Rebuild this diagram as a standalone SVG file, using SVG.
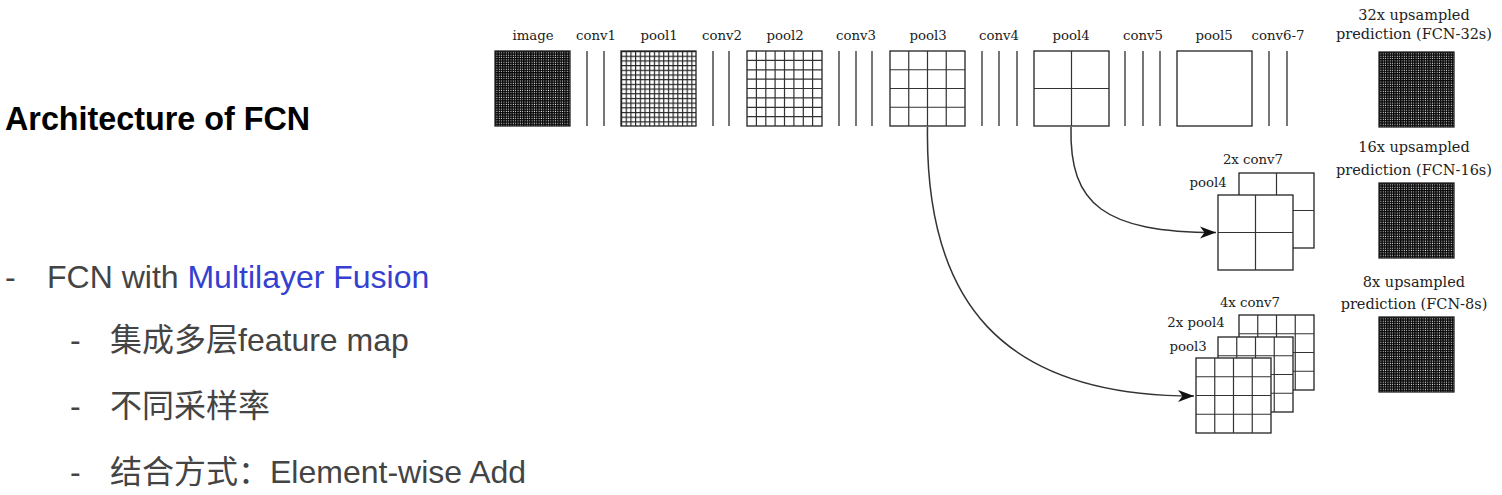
<svg xmlns="http://www.w3.org/2000/svg" width="1502" height="495" viewBox="0 0 1502 495">
<style>
.lbl{font-family:"DejaVu Serif",serif;font-size:13.3px;fill:#222;text-anchor:middle}
.plbl{font-family:"DejaVu Serif",serif;font-size:14.5px;fill:#222;text-anchor:middle}
.box{fill:#fff;stroke:#222;stroke-width:1.3}
.grid{fill:none;stroke:#333;stroke-width:1.2}
.cv{stroke:#555;stroke-width:1.6}
.edge{fill:none;stroke:#333;stroke-width:1.5;marker-end:url(#arr)}
.t{font-family:"Liberation Sans","Noto Sans CJK SC",sans-serif;font-size:32px;fill:#444}
</style>
<defs>
<pattern id="g32" patternUnits="objectBoundingBox" width="0.03125" height="0.03125"><path d="M0 0V3M0 0H3" stroke="#0a0a0a" stroke-width="2.9"/></pattern>
<pattern id="g16" patternUnits="objectBoundingBox" width="0.0625" height="0.0625"><path d="M0 0V5M0 0H5" stroke="#222" stroke-width="2.3"/></pattern>
<marker id="arr" markerUnits="userSpaceOnUse" markerWidth="17" markerHeight="13" refX="16" refY="6.5" orient="auto"><path d="M0,0.5 L16,6.5 L0,12.5 L4.5,6.5 Z" fill="#111"/></marker>
</defs>
<rect width="1502" height="495" fill="#fff"/>

<g id="text-left">
<text x="5" y="130" font-family="Liberation Sans,sans-serif" font-weight="bold" font-size="32.3" fill="#000">Architecture of FCN</text>
<text x="5" y="288" class="t">-</text>
<text x="47" y="288" class="t">FCN with <tspan fill="#3340d0">Multilayer Fusion</tspan></text>
<text x="70" y="351" class="t">-</text>
<text x="110" y="351" class="t">集成多层feature map</text>
<text x="70" y="417" class="t">-</text>
<text x="110" y="417" class="t">不同采样率</text>
<text x="70" y="483" class="t">-</text>
<text x="110" y="483" class="t">结合方式：Element-wise Add</text>
</g>

<g id="image"><text x="533" y="40" class="lbl">image</text><rect x="495" y="51" width="75" height="75" fill="#fff"/><rect x="495" y="51" width="75" height="75" fill="url(#g32)" stroke="#222" stroke-width="1.3"/></g>
<g id="conv1"><text x="596" y="40" class="lbl">conv1</text><path class="cv" d="M587 51V126M604 51V126"/></g>
<g id="pool1"><text x="659" y="40" class="lbl">pool1</text><rect x="621" y="51" width="75" height="75" fill="#fff"/><rect x="621" y="51" width="75" height="75" fill="url(#g16)" stroke="#222" stroke-width="1.3"/></g>
<g id="conv2"><text x="722" y="40" class="lbl">conv2</text><path class="cv" d="M713 51V126M729 51V126"/></g>
<g id="pool2"><text x="785" y="40" class="lbl">pool2</text><rect class="box" x="747" y="51" width="75" height="75"/><path class="grid" d="M756.4 51V126M765.8 51V126M775.1 51V126M784.5 51V126M793.9 51V126M803.3 51V126M812.6 51V126M747 60.4H822M747 69.8H822M747 79.1H822M747 88.5H822M747 97.9H822M747 107.3H822M747 116.6H822"/></g>
<g id="conv3"><text x="856" y="40" class="lbl">conv3</text><path class="cv" d="M839 51V126M856 51V126M872 51V126"/></g>
<g id="pool3"><text x="928" y="40" class="lbl">pool3</text><rect class="box" x="890" y="51" width="75" height="75"/><path class="grid" d="M908.75 51V126M927.5 51V126M946.25 51V126M890 69.75H965M890 88.5H965M890 107.25H965"/></g>
<g id="conv4"><text x="999" y="40" class="lbl">conv4</text><path class="cv" d="M982 51V126M999 51V126M1017 51V126"/></g>
<g id="pool4"><text x="1071" y="40" class="lbl">pool4</text><rect class="box" x="1034" y="51" width="75" height="75"/><path class="grid" d="M1071.5 51V126M1034 88.5H1109"/></g>
<g id="conv5"><text x="1143" y="40" class="lbl">conv5</text><path class="cv" d="M1125 51V126M1143 51V126M1160 51V126"/></g>
<g id="pool5"><text x="1214" y="40" class="lbl">pool5</text><rect class="box" x="1177" y="51" width="75" height="75"/></g>
<g id="conv6-7"><text x="1278" y="40" class="lbl">conv6-7</text><path class="cv" d="M1269 51V126M1287 51V126"/></g>

<g id="pred32"><text x="1414" y="20" class="plbl">32x upsampled</text><text x="1414" y="39" class="plbl">prediction (FCN-32s)</text><rect x="1379" y="52" width="75" height="75" fill="#fff"/><rect x="1379" y="52" width="75" height="75" fill="url(#g32)" stroke="#222" stroke-width="1.3"/></g>
<g id="pred16"><text x="1414" y="152" class="plbl">16x upsampled</text><text x="1414" y="175" class="plbl">prediction (FCN-16s)</text><rect x="1379" y="183" width="75" height="75" fill="#fff"/><rect x="1379" y="183" width="75" height="75" fill="url(#g32)" stroke="#222" stroke-width="1.3"/></g>
<g id="pred8"><text x="1414" y="287" class="plbl">8x upsampled</text><text x="1414" y="309" class="plbl">prediction (FCN-8s)</text><rect x="1379" y="317" width="75" height="75" fill="#fff"/><rect x="1379" y="317" width="75" height="75" fill="url(#g32)" stroke="#222" stroke-width="1.3"/></g>

<g id="fuse16">
<text x="1253" y="164" class="lbl">2x conv7</text>
<text x="1208" y="187" class="lbl">pool4</text>
<rect class="box" x="1239" y="173" width="75" height="75"/><path class="grid" d="M1276.5 173V248M1239 210.5H1314"/>
<rect class="box" x="1218" y="195" width="75" height="75"/><path class="grid" d="M1255.5 195V270M1218 232.5H1293"/>
</g>

<g id="fuse8">
<text x="1250" y="307" class="lbl">4x conv7</text>
<text x="1196" y="327" class="lbl">2x pool4</text>
<text x="1188" y="351" class="lbl">pool3</text>
<rect class="box" x="1239" y="315" width="75" height="75"/><path class="grid" d="M1257.75 315V390M1276.5 315V390M1295.25 315V390M1239 333.75H1314M1239 352.5H1314M1239 371.25H1314"/>
<rect class="box" x="1218" y="337" width="75" height="75"/><path class="grid" d="M1236.75 337V412M1255.5 337V412M1274.25 337V412M1218 355.75H1293M1218 374.5H1293M1218 393.25H1293"/>
<rect class="box" x="1196" y="358" width="75" height="75"/><path class="grid" d="M1214.75 358V433M1233.5 358V433M1252.25 358V433M1196 376.75H1271M1196 395.5H1271M1196 414.25H1271"/>
</g>

<g id="connectors">
<path class="edge" d="M1071 127 C1069 205,1105 232.5,1216 232.5"/>
<path class="edge" d="M927.5 127 C925 300,1000 396,1194 396"/>
</g>
</svg>
